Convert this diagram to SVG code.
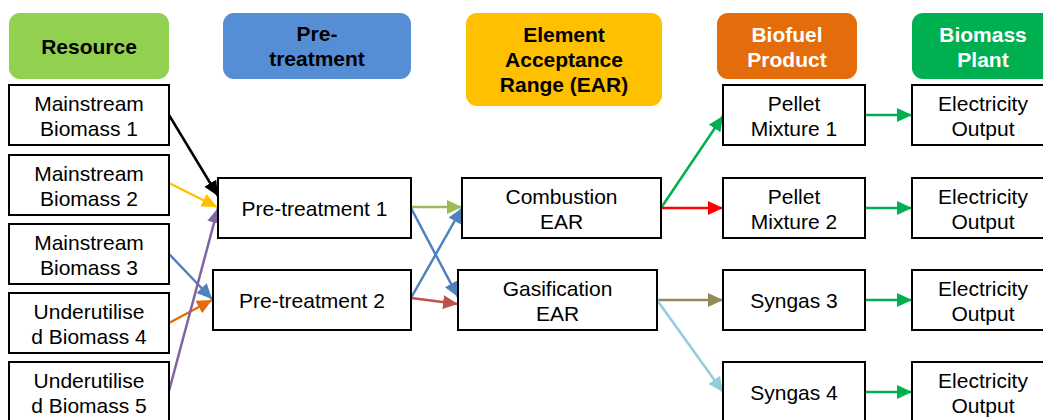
<svg xmlns="http://www.w3.org/2000/svg" width="1043" height="420" viewBox="0 0 1043 420">
<style>
.box{fill:#fff;stroke:#000;stroke-width:2}
.hdr{stroke:none}
.t{font-family:"Liberation Sans",Arial,sans-serif;font-size:21px;fill:#000;text-anchor:middle}
.h{font-family:"Liberation Sans",Arial,sans-serif;font-size:21px;font-weight:bold;text-anchor:middle}
.c{fill:none;stroke-width:2.5}
</style>
<defs>
<marker id="mBlack" markerUnits="userSpaceOnUse" markerWidth="16" markerHeight="14" refX="15" refY="7" orient="auto"><path d="M0,0 L15,7 L0,14 z" fill="#000"/></marker>
<marker id="mYellow" markerUnits="userSpaceOnUse" markerWidth="16" markerHeight="14" refX="15" refY="7" orient="auto"><path d="M0,0 L15,7 L0,14 z" fill="#FFC000"/></marker>
<marker id="mBlue" markerUnits="userSpaceOnUse" markerWidth="16" markerHeight="14" refX="15" refY="7" orient="auto"><path d="M0,0 L15,7 L0,14 z" fill="#4F81BD"/></marker>
<marker id="mOrange" markerUnits="userSpaceOnUse" markerWidth="16" markerHeight="14" refX="15" refY="7" orient="auto"><path d="M0,0 L15,7 L0,14 z" fill="#E46C0A"/></marker>
<marker id="mPurple" markerUnits="userSpaceOnUse" markerWidth="16" markerHeight="14" refX="15" refY="7" orient="auto"><path d="M0,0 L15,7 L0,14 z" fill="#8064A2"/></marker>
<marker id="mLime" markerUnits="userSpaceOnUse" markerWidth="16" markerHeight="14" refX="15" refY="7" orient="auto"><path d="M0,0 L15,7 L0,14 z" fill="#9BBB59"/></marker>
<marker id="mBrick" markerUnits="userSpaceOnUse" markerWidth="16" markerHeight="14" refX="15" refY="7" orient="auto"><path d="M0,0 L15,7 L0,14 z" fill="#C0504D"/></marker>
<marker id="mGreen" markerUnits="userSpaceOnUse" markerWidth="16" markerHeight="14" refX="15" refY="7" orient="auto"><path d="M0,0 L15,7 L0,14 z" fill="#00B050"/></marker>
<marker id="mRed" markerUnits="userSpaceOnUse" markerWidth="16" markerHeight="14" refX="15" refY="7" orient="auto"><path d="M0,0 L15,7 L0,14 z" fill="#FF0000"/></marker>
<marker id="mOlive" markerUnits="userSpaceOnUse" markerWidth="16" markerHeight="14" refX="15" refY="7" orient="auto"><path d="M0,0 L15,7 L0,14 z" fill="#948A54"/></marker>
<marker id="mSky" markerUnits="userSpaceOnUse" markerWidth="16" markerHeight="14" refX="15" refY="7" orient="auto"><path d="M0,0 L15,7 L0,14 z" fill="#92CDDC"/></marker>
</defs>
<rect width="1043" height="420" fill="#fff"/>

<g id="hdr-resource"><rect class="hdr" x="9" y="13" width="160" height="66" rx="11" fill="#92D050"/><text class="h" x="89" y="54" fill="#000">Resource</text></g>
<g id="hdr-pretreatment"><rect class="hdr" x="223" y="13" width="188" height="66" rx="11" fill="#558ED5"/><text class="h" x="317" y="41" fill="#000">Pre-</text><text class="h" x="317" y="66" fill="#000">treatment</text></g>
<g id="hdr-ear"><rect class="hdr" x="466" y="13" width="196" height="93" rx="11" fill="#FFC000"/><text class="h" x="564" y="42" fill="#000">Element</text><text class="h" x="564" y="67" fill="#000">Acceptance</text><text class="h" x="564" y="92" fill="#000">Range (EAR)</text></g>
<g id="hdr-biofuel"><rect class="hdr" x="717" y="13" width="140" height="66" rx="11" fill="#E46C0A"/><text class="h" x="787" y="42" fill="#fff">Biofuel</text><text class="h" x="787" y="67" fill="#fff">Product</text></g>
<g id="hdr-plant"><rect class="hdr" x="912" y="13" width="142" height="66" rx="11" fill="#00B050"/><text class="h" x="983" y="42" fill="#fff">Biomass</text><text class="h" x="983" y="67" fill="#fff">Plant</text></g>

<g id="connectors">
<line class="c" x1="169" y1="115" x2="218" y2="196" stroke="#000" marker-end="url(#mBlack)"/>
<line class="c" x1="169" y1="183" x2="217" y2="207" stroke="#FFC000" marker-end="url(#mYellow)"/>
<line class="c" x1="169" y1="254" x2="212" y2="299" stroke="#4F81BD" marker-end="url(#mBlue)"/>
<line class="c" x1="169" y1="323" x2="212" y2="300" stroke="#E46C0A" marker-end="url(#mOrange)"/>
<line class="c" x1="169" y1="391" x2="218" y2="208" stroke="#8064A2" marker-end="url(#mPurple)"/>
<line class="c" x1="411" y1="207" x2="462" y2="207" stroke="#9BBB59" marker-end="url(#mLime)"/>
<line class="c" x1="411" y1="208" x2="458" y2="297" stroke="#4F81BD" marker-end="url(#mBlue)"/>
<line class="c" x1="411" y1="298" x2="462" y2="208" stroke="#4F81BD" marker-end="url(#mBlue)"/>
<line class="c" x1="411" y1="298" x2="458" y2="304" stroke="#C0504D" marker-end="url(#mBrick)"/>
<line class="c" x1="661" y1="208" x2="723" y2="116" stroke="#00B050" marker-end="url(#mGreen)"/>
<line class="c" x1="661" y1="208" x2="723" y2="208" stroke="#FF0000" marker-end="url(#mRed)"/>
<line class="c" x1="657" y1="300" x2="723" y2="300" stroke="#948A54" marker-end="url(#mOlive)"/>
<line class="c" x1="657" y1="300" x2="723" y2="392" stroke="#92CDDC" marker-end="url(#mSky)"/>
<line class="c" x1="865" y1="115" x2="912" y2="115" stroke="#00B050" marker-end="url(#mGreen)"/>
<line class="c" x1="865" y1="208" x2="912" y2="208" stroke="#00B050" marker-end="url(#mGreen)"/>
<line class="c" x1="865" y1="300" x2="912" y2="300" stroke="#00B050" marker-end="url(#mGreen)"/>
<line class="c" x1="865" y1="392" x2="912" y2="392" stroke="#00B050" marker-end="url(#mGreen)"/>
</g>

<g id="mb1"><rect class="box" x="9" y="85" width="160" height="60"/><text class="t" x="89" y="111">Mainstream</text><text class="t" x="89" y="136">Biomass 1</text></g>
<g id="mb2"><rect class="box" x="9" y="155" width="160" height="60"/><text class="t" x="89" y="181">Mainstream</text><text class="t" x="89" y="206">Biomass 2</text></g>
<g id="mb3"><rect class="box" x="9" y="224" width="160" height="60"/><text class="t" x="89" y="250">Mainstream</text><text class="t" x="89" y="275">Biomass 3</text></g>
<g id="ub4"><rect class="box" x="9" y="293" width="160" height="60"/><text class="t" x="89" y="319">Underutilise</text><text class="t" x="89" y="344">d Biomass 4</text></g>
<g id="ub5"><rect class="box" x="9" y="362" width="160" height="62"/><text class="t" x="89" y="388">Underutilise</text><text class="t" x="89" y="413">d Biomass 5</text></g>

<g id="pt1"><rect class="box" x="218" y="178" width="193" height="60"/><text class="t" x="314.5" y="216">Pre-treatment 1</text></g>
<g id="pt2"><rect class="box" x="213" y="270" width="198" height="60"/><text class="t" x="312" y="308">Pre-treatment 2</text></g>

<g id="comb"><rect class="box" x="462" y="178" width="199" height="60"/><text class="t" x="561.5" y="204">Combustion</text><text class="t" x="561.5" y="229">EAR</text></g>
<g id="gas"><rect class="box" x="458" y="270" width="199" height="60"/><text class="t" x="557.5" y="296">Gasification</text><text class="t" x="557.5" y="321">EAR</text></g>

<g id="pm1"><rect class="box" x="723" y="85" width="142" height="60"/><text class="t" x="794" y="111">Pellet</text><text class="t" x="794" y="136">Mixture 1</text></g>
<g id="pm2"><rect class="box" x="723" y="178" width="142" height="60"/><text class="t" x="794" y="204">Pellet</text><text class="t" x="794" y="229">Mixture 2</text></g>
<g id="sg3"><rect class="box" x="723" y="270" width="142" height="60"/><text class="t" x="794" y="308">Syngas 3</text></g>
<g id="sg4"><rect class="box" x="723" y="362" width="142" height="62"/><text class="t" x="794" y="400">Syngas 4</text></g>

<g id="el1"><rect class="box" x="912" y="85" width="142" height="60"/><text class="t" x="983" y="111">Electricity</text><text class="t" x="983" y="136">Output</text></g>
<g id="el2"><rect class="box" x="912" y="178" width="142" height="60"/><text class="t" x="983" y="204">Electricity</text><text class="t" x="983" y="229">Output</text></g>
<g id="el3"><rect class="box" x="912" y="270" width="142" height="60"/><text class="t" x="983" y="296">Electricity</text><text class="t" x="983" y="321">Output</text></g>
<g id="el4"><rect class="box" x="912" y="362" width="142" height="62"/><text class="t" x="983" y="388">Electricity</text><text class="t" x="983" y="413">Output</text></g>
</svg>
